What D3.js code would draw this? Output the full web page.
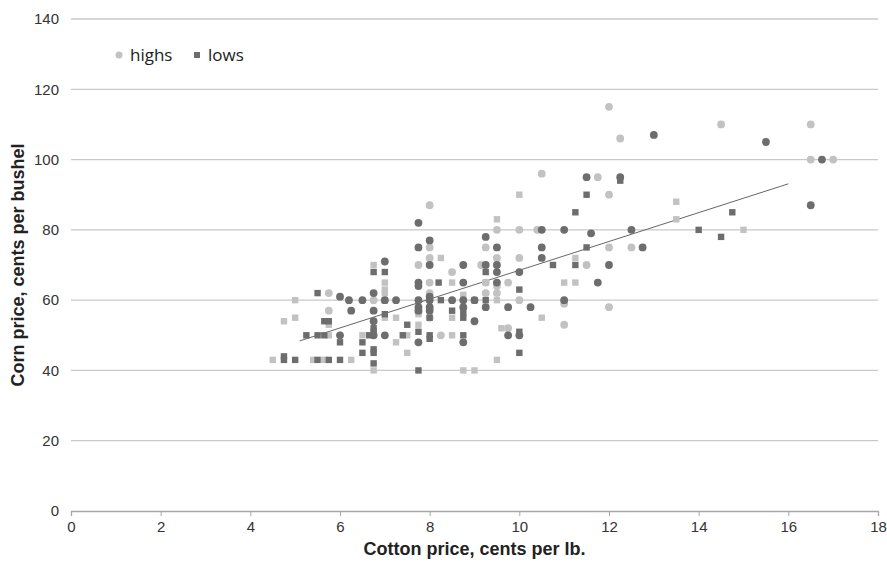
<!DOCTYPE html>
<html>
<head>
<meta charset="utf-8">
<script src="https://cdn.jsdelivr.net/npm/d3@7"></script>
<style>
  body { margin: 0; background: #fff; }
  svg { display: block; }
</style>
</head>
<body>
<script>
// values: [cotton price, corn price]
const highs = [
    [12, 115], [12.25, 106], [14.5, 110], [16.5, 110], [16.5, 100], [17, 100],
    [10.5, 96], [11.75, 95], [12, 90], [8, 87], [9.5, 80], [10, 80], [10.4, 80],
    [8, 75], [9.25, 75], [12, 75], [12.5, 75], [8, 72], [9.5, 72], [10, 72],
    [7.75, 70], [9.15, 70], [11.5, 70], [8.5, 68], [8, 65], [9.25, 65], [9.75, 65],
    [9.5, 64], [9.5, 62], [8, 62], [9.25, 62], [5.75, 62], [6.75, 60], [10, 60],
    [11, 59], [5.75, 57], [7.75, 56.5], [8, 55], [12, 58], [8.25, 50], [9.75, 52],
    [11, 53]
];
const lows = [
    [12.25, 94], [11.5, 90], [11.25, 85], [14.75, 85], [14, 80], [14.5, 78],
    [11.5, 75], [10.75, 70], [11.25, 70], [6.75, 68], [7, 68], [8.2, 65], [9.25, 68],
    [10, 63], [8.25, 60], [9, 60], [9.25, 60], [7, 60], [5.5, 62], [7, 56], [8.5, 57],
    [8, 55], [8.75, 55], [8.75, 56.5], [5.65, 54], [5.75, 54], [6.75, 52], [6.75, 51],
    [7.5, 53], [7.75, 51], [10, 51], [5.25, 50], [5.5, 50], [5.65, 50], [6.65, 50],
    [7.4, 50], [8, 50], [8, 49], [8.75, 50], [6, 48], [6.5, 48], [6.5, 45], [6.75, 46],
    [6.75, 45], [6.75, 42], [10, 45], [7.75, 40], [4.75, 44], [4.75, 43], [5, 43],
    [5.5, 43], [5.75, 43], [6, 43]
];
// unlabelled series (dark circles, light squares)
const highs2 = [
    [13, 107], [15.5, 105], [16.75, 100], [16.5, 87], [11.5, 95], [12.25, 95],
    [7.75, 82], [8, 77], [7.75, 75], [9.25, 78], [10.5, 80], [11, 80], [11.6, 79],
    [12.5, 80], [9.5, 75], [10.5, 75], [12.75, 75], [10.5, 72], [12, 70], [8, 70],
    [8.75, 70], [9.25, 70], [9.5, 70], [7, 71], [9.5, 68], [10, 68], [7.75, 65],
    [7.75, 64], [8.75, 65], [9.5, 65], [11.75, 65], [6.75, 62], [6, 61], [6.2, 60],
    [6.5, 60], [7, 60], [7.25, 60], [7.75, 60], [8, 60], [8.5, 60], [8.75, 60], [9, 60],
    [11, 60], [8, 61], [9.75, 58], [10.25, 58], [9.25, 58], [7.75, 58], [8, 58],
    [8.75, 58], [6.25, 57], [6.75, 57], [8, 57], [7.75, 57], [6.75, 54], [9, 54],
    [6, 50], [6.75, 50], [7, 50], [9.75, 50], [10, 50], [7.75, 48], [8.75, 48]
];
const lows2 = [
    [10, 90], [13.5, 88], [13.5, 83], [15, 80], [9.5, 83], [8.25, 72], [11.25, 72],
    [6.75, 70], [7, 65], [7, 63], [7, 62], [8.5, 65], [9.5, 60], [9.25, 65], [11, 65],
    [11.25, 65], [5, 60], [8.75, 61.5], [5, 55], [4.75, 54], [7, 55], [7.25, 55],
    [7.75, 56], [7.75, 53], [8.5, 55], [10.5, 55], [5.75, 53], [5.75, 50], [6.5, 50],
    [7.5, 50], [8.5, 50], [9.6, 52], [7.25, 48], [7.5, 45], [9.5, 43], [6.75, 40],
    [8.75, 40], [9, 40], [4.5, 43], [5.4, 43], [5.65, 43], [6.25, 43]
];
const trendX = [5.1, 16];
const trendY = [48.4, 93.1];
const xTicks = [0, 2, 4, 6, 8, 10, 12, 14, 16, 18];
const yTicks = [0, 20, 40, 60, 80, 100, 120, 140];

const width = 887;
const height = 564;
const margin = { left: 71, right: 9, top: 19, bottom: 53 };

const light = "#c2c2c2";
const dark = "#6d6d6d";

let svg = d3.select("body").append("svg")
    .attr("width", width)
    .attr("height", height);

let xScale = d3.scaleLinear()
    .domain([0, 18])
    .range([margin.left, width - margin.right]);

let yScale = d3.scaleLinear()
    .domain([0, 140])
    .range([height - margin.bottom, margin.top]);

// gridlines
svg.append("g")
    .selectAll("line")
    .data(yTicks.filter(d => d > 0))
    .join("line")
    .attr("x1", margin.left)
    .attr("x2", width - margin.right)
    .attr("y1", d => yScale(d))
    .attr("y2", d => yScale(d))
    .attr("stroke", "#c9c9c9")
    .attr("stroke-width", 1.3);

// x axis
let xAxis = svg.append("g")
    .attr("transform", "translate(0," + yScale(0) + ")")
    .call(d3.axisBottom(xScale).tickValues(xTicks).tickSize(5).tickPadding(5));
xAxis.select(".domain").attr("stroke", "#a6a6a6").attr("stroke-width", 1.3);
xAxis.selectAll(".tick line").attr("stroke", "#a6a6a6");
xAxis.selectAll("text")
    .style("font-family", "'Liberation Sans Narrow', 'Arial Narrow', 'Liberation Sans', sans-serif")
    .style("font-size", "15px")
    .attr("fill", "#333");

// y axis (labels only)
let yAxis = svg.append("g")
    .attr("transform", "translate(" + margin.left + ",0)")
    .call(d3.axisLeft(yScale).tickValues(yTicks).tickSize(0).tickPadding(12));
yAxis.select(".domain").remove();
yAxis.selectAll("text")
    .style("font-family", "'Liberation Sans', Arial, sans-serif")
    .style("font-size", "15px")
    .attr("fill", "#333");

// trend line
svg.append("line")
    .attr("x1", xScale(trendX[0]))
    .attr("y1", yScale(trendY[0]))
    .attr("x2", xScale(trendX[1]))
    .attr("y2", yScale(trendY[1]))
    .attr("stroke", "#666")
    .attr("stroke-width", 1);

function circles(data, color) {
    svg.append("g")
        .selectAll("circle")
        .data(data)
        .join("circle")
        .attr("cx", d => xScale(d[0]))
        .attr("cy", d => yScale(d[1]))
        .attr("r", 3.9)
        .attr("fill", color);
}

function squares(data, color) {
    const s = 6.4;
    svg.append("g")
        .selectAll("rect")
        .data(data)
        .join("rect")
        .attr("x", d => xScale(d[0]) - s / 2)
        .attr("y", d => yScale(d[1]) - s / 2)
        .attr("width", s)
        .attr("height", s)
        .attr("fill", color);
}

squares(lows2, light);
circles(highs, light);
squares(lows, dark);
circles(highs2, dark);

// legend
let legend = svg.append("g")
    .style("font-family", "'Open Sans', sans-serif")
    .style("font-size", "17px")
    .attr("fill", "#222");
legend.append("circle")
    .attr("cx", 119).attr("cy", 55).attr("r", 3.5).attr("fill", light);
legend.append("text")
    .attr("x", 130).attr("y", 61).text("highs");
legend.append("rect")
    .attr("x", 194).attr("y", 52).attr("width", 6).attr("height", 6).attr("fill", dark);
legend.append("text")
    .attr("x", 208).attr("y", 61).text("lows");

// axis titles
svg.append("text")
    .attr("x", (xScale(0) + xScale(18)) / 2)
    .attr("y", 555)
    .attr("text-anchor", "middle")
    .style("font-family", "'Liberation Sans', Arial, sans-serif")
    .style("font-weight", "bold")
    .style("font-size", "18px")
    .attr("fill", "#222")
    .text("Cotton price, cents per lb.");

svg.append("text")
    .attr("text-anchor", "middle")
    .attr("transform", "translate(24," + ((yScale(0) + yScale(140)) / 2) + ") rotate(-90)")
    .style("font-family", "'Liberation Sans', Arial, sans-serif")
    .style("font-weight", "bold")
    .style("font-size", "18px")
    .attr("fill", "#222")
    .text("Corn price, cents per bushel");
</script>
</body>
</html>
